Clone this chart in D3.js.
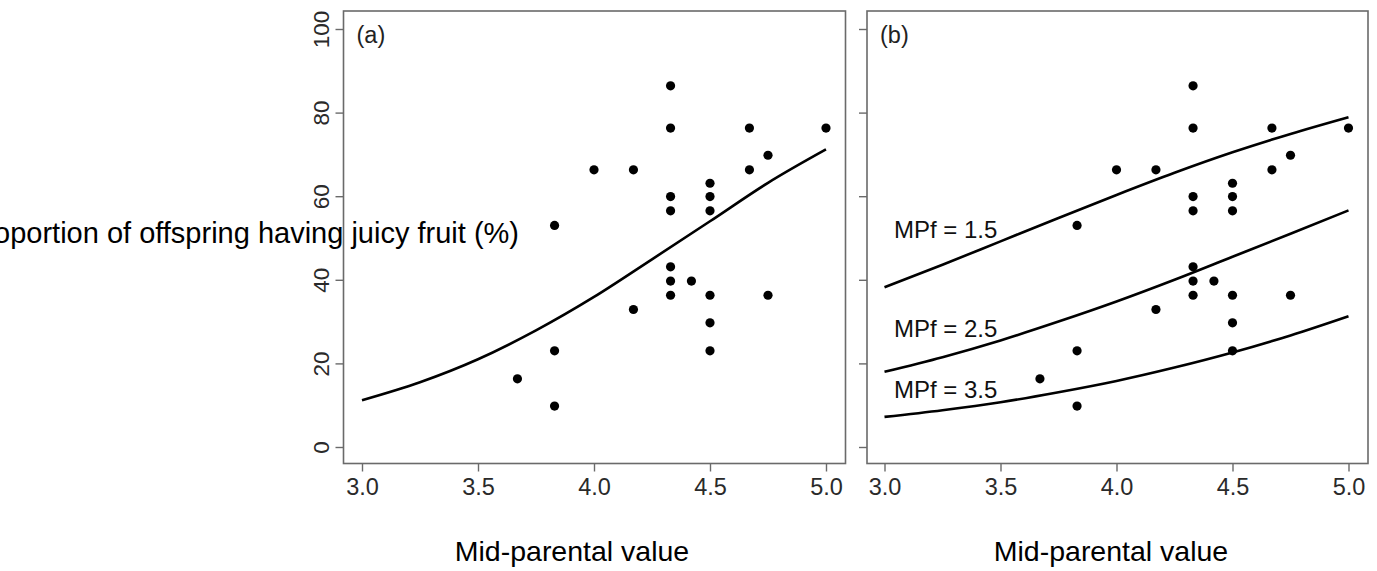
<!DOCTYPE html>
<html>
<head>
<meta charset="utf-8">
<script src="https://cdn.jsdelivr.net/npm/d3@7"></script>
<style>
  html, body { margin: 0; padding: 0; background: #fff; }
  svg { display: block; font-family: Arial, "Liberation Sans", Helvetica, sans-serif; }
</style>
</head>
<body>
<svg id="chart" width="1377" height="571"></svg>
<script>
// ---- Data ----
const pointX = [3.67, 3.83, 3.83, 3.83, 4.0, 4.17, 4.17, 4.33, 4.33, 4.33, 4.33, 4.33, 4.33, 4.33,
                4.42, 4.5, 4.5, 4.5, 4.5, 4.5, 4.5, 4.67, 4.67, 4.75, 4.75, 5.0];
const pointY = [16.3, 23.0, 9.8, 53.0, 66.3, 66.3, 32.9, 86.4, 76.3, 59.9, 56.5, 43.1, 39.7, 36.3,
                39.7, 63.1, 59.9, 56.5, 36.3, 29.7, 23.0, 76.3, 66.3, 69.8, 36.3, 76.3];

const curveX = [3.0, 3.25, 3.5, 3.75, 4.0, 4.25, 4.5, 4.75, 5.0];
const curveA = [11.2, 15.5, 21.0, 27.9, 35.9, 44.9, 54.0, 63.2, 71.2];
const curveMPf15 = [38.2, 43.6, 49.2, 54.8, 60.3, 65.6, 70.5, 74.9, 78.9];
const curveMPf25 = [18.0, 21.5, 25.5, 30.0, 34.8, 40.0, 45.5, 51.0, 56.6];
const curveMPf35 = [7.2, 8.8, 10.7, 13.1, 15.8, 19.0, 22.6, 26.7, 31.3];
const curveLabels = ["MPf = 1.5", "MPf = 2.5", "MPf = 3.5"];

const xTicks = [3.0, 3.5, 4.0, 4.5, 5.0];
const yTicks = [0, 20, 40, 60, 80, 100];
const panelLabels = ["(a)", "(b)"];
const xTitle = "Mid-parental value";
const yTitle = "Proportion of offspring having juicy fruit (%)";

// ---- Layout ----
const svg = d3.select("#chart");
const yScale = d3.scaleLinear().domain([0, 100]).range([447, 29]);
const boxTop = 11, boxBottom = 463.5;

const panels = [
  { xr: [362, 826], box: [343.5, 845.5], label: panelLabels[0], yLabels: true, titleX: 572 },
  { xr: [884.5, 1348.5], box: [867, 1368], label: panelLabels[1], yLabels: false, titleX: 1111 }
];

const axisGrey = "#6a6a6a";
const textGrey = "#2a2a2a";

panels.forEach((p, i) => {
  const x = d3.scaleLinear().domain([3, 5]).range(p.xr);
  const g = svg.append("g");

  // box
  g.append("rect")
    .attr("x", p.box[0]).attr("y", boxTop)
    .attr("width", p.box[1] - p.box[0]).attr("height", boxBottom - boxTop)
    .attr("fill", "none").attr("stroke", axisGrey).attr("stroke-width", 1.6);

  // x axis
  const xa = g.append("g").attr("transform", `translate(0,${boxBottom})`)
    .call(d3.axisBottom(x).tickValues(xTicks).tickFormat(d3.format(".1f")).tickSize(8).tickPadding(7));
  xa.select(".domain").remove();
  xa.selectAll("line").attr("stroke", axisGrey).attr("stroke-width", 1.4);
  xa.selectAll("text").attr("font-size", 23.5).attr("fill", textGrey)
    .attr("font-family", "Arial, 'Liberation Sans', sans-serif");

  // y axis
  const ya = g.append("g").attr("transform", `translate(${p.box[0]},0)`)
    .call(d3.axisLeft(yScale).tickValues(yTicks).tickSize(8).tickFormat(p.yLabels ? d3.format("d") : () => ""));
  ya.select(".domain").remove();
  ya.selectAll("line").attr("stroke", axisGrey).attr("stroke-width", 1.4);
  if (p.yLabels) {
    ya.selectAll("text")
      .attr("font-size", 22.5).attr("fill", textGrey)
      .attr("font-family", "Arial, 'Liberation Sans', sans-serif")
      .attr("text-anchor", "middle")
      .attr("dy", 0)
      .attr("x", 0).attr("y", 0)
      .attr("transform", d => `translate(-15,0) rotate(-90)`);
  }

  // panel label
  g.append("text").attr("x", p.box[0] + 13).attr("y", 43)
    .attr("font-size", 23.5).attr("fill", "#222").text(p.label);

  // points
  g.selectAll("circle.pt").data(pointX.map((v, k) => [v, pointY[k]]))
    .enter().append("circle").attr("class", "pt")
    .attr("cx", d => x(d[0])).attr("cy", d => yScale(d[1]))
    .attr("r", 4.6).attr("fill", "#000");

  const line = d3.line().x(d => x(d[0])).y(d => yScale(d[1])).curve(d3.curveMonotoneX);
  const curves = i === 0 ? [curveA] : [curveMPf15, curveMPf25, curveMPf35];
  curves.forEach(c => {
    g.append("path").datum(curveX.map((v, k) => [v, c[k]]))
      .attr("d", line).attr("fill", "none").attr("stroke", "#000").attr("stroke-width", 2.6);
  });

  if (i === 1) {
    const labelY = [238, 336.5, 398];
    curveLabels.forEach((t, k) => {
      g.append("text").attr("x", 894).attr("y", labelY[k])
        .attr("font-size", 24).attr("fill", "#111").text(t);
    });
  }

  // x title
  svg.append("text").attr("x", p.titleX).attr("y", 561)
    .attr("text-anchor", "middle").attr("font-size", 28.5).attr("fill", "#000").text(xTitle);
});

// y title (horizontal, clipped at left as in reference)
svg.append("text").attr("x", 519).attr("y", 243)
  .attr("text-anchor", "end").attr("font-size", 29).attr("fill", "#000").text(yTitle);
</script>
</body>
</html>
